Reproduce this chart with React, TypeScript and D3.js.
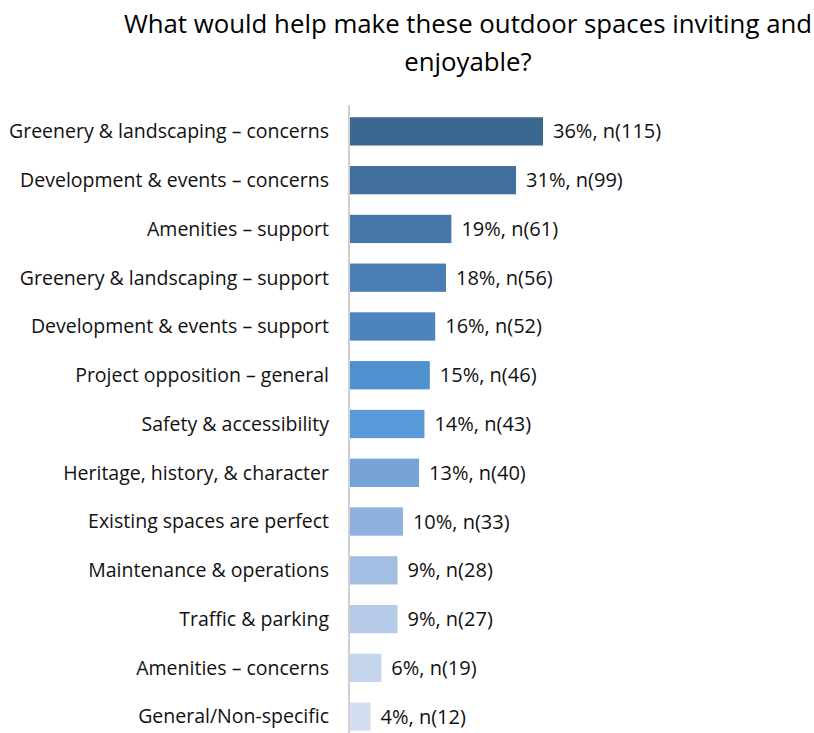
import React from "react";
import * as d3 from "d3";

const categories = [
  "Greenery & landscaping – concerns",
  "Development & events – concerns",
  "Amenities – support",
  "Greenery & landscaping – support",
  "Development & events – support",
  "Project opposition – general",
  "Safety & accessibility",
  "Heritage, history, & character",
  "Existing spaces are perfect",
  "Maintenance & operations",
  "Traffic & parking",
  "Amenities – concerns",
  "General/Non-specific",
];
const percents = [36, 31, 19, 18, 16, 15, 14, 13, 10, 9, 9, 6, 4];
const counts = [115, 99, 61, 56, 52, 46, 43, 40, 33, 28, 27, 19, 12];
const colors = [
  "#3c6791", "#41709f", "#4577aa", "#4a7db3", "#4d84bf", "#5090cf", "#5a9ad8",
  "#76a2d6", "#8db0dc", "#a2bfe3", "#b5cbe8", "#c5d5ed", "#d4def0",
];
const title = ["What would help make these outdoor spaces inviting and", "enjoyable?"];

const W = 814;
const H = 733;
const FONT = "'Open Sans', Lato, sans-serif";

export default function App() {
  const x0 = 349;
  const x = d3.scaleLinear().domain([0, 36]).range([x0, 543]);
  const y = d3
    .scaleBand<string>()
    .domain(categories)
    .range([107, 741])
    .paddingInner(0.42)
    .paddingOuter(0.21);
  const bw = y.bandwidth();
  return (
    <svg
      width={W}
      height={H}
      style={{ position: "absolute", left: 0, top: 0, background: "#fff" }}
      fontFamily={FONT}
    >
      {title.map((t, i) => (
        <text key={i} x={468} y={33 + i * 38} textAnchor="middle" fontSize={25.8} fill="#000">
          {t}
        </text>
      ))}
      <line x1={x0} x2={x0} y1={105} y2={733} stroke="#d0d0d0" strokeWidth={2} />
      {categories.map((c, i) => {
        const yy = y(c)!;
        return (
          <g key={c}>
            <rect x={x0 + 1} y={yy} width={x(percents[i]) - x0 - 1} height={bw} fill={colors[i]} />
            <text
              x={329}
              y={yy + bw / 2}
              dy="0.35em"
              textAnchor="end"
              fontSize={19.5}
              fill="#111"
            >
              {c}
            </text>
            <text
              x={x(percents[i]) + 10}
              y={yy + bw / 2}
              dy="0.35em"
              fontSize={20}
              fill="#111"
            >
              {`${percents[i]}%, n(${counts[i]})`}
            </text>
          </g>
        );
      })}
    </svg>
  );
}
